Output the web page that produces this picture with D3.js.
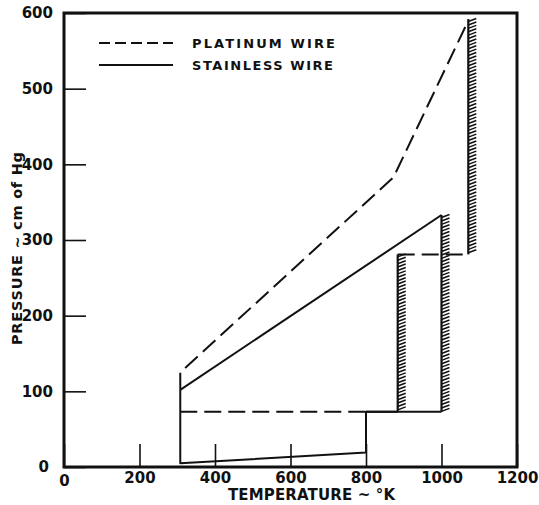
<!DOCTYPE html>
<html>
<head>
<meta charset="utf-8">
<script src="https://cdn.jsdelivr.net/npm/d3@7"></script>
<style>
  html, body { margin: 0; padding: 0; background: #fff; }
  svg { display: block; }
  text { font-family: "DejaVu Sans", sans-serif; font-weight: bold; fill: #111; }
</style>
</head>
<body>
<svg id="chart" width="539" height="505"></svg>
<script>
// ---- data ----
const xTicks = [0, 200, 400, 600, 800, 1000, 1200];
const yTicks = [0, 100, 200, 300, 400, 500, 600];
const xTitle = "TEMPERATURE ~ °K";
const yTitle = "PRESSURE ~ cm of Hg";
const legendLabels = ["PLATINUM  WIRE", "STAINLESS  WIRE"];

// platinum wire boundaries (dashed)  [temperature K, pressure cmHg]
const platinumUpper = [[308, 102], [308, 125], [873, 383], [1071, 590]];
const platinumLower = [[308, 73], [800, 73]];
const platinumStep  = [[884, 281], [1071, 281]];

// stainless wire boundaries (solid)
const stainlessUpper = [[308, 102], [1000, 333]];
const stainlessLower = [[308, 102], [308, 5], [800, 19], [800, 73], [1000, 73]];
const stainlessShelf = [[800, 73], [884, 73]];

// hatched limit lines: [temperature, pressure from, pressure to]
const hatchLimits = [[884, 73, 281], [1000, 73, 333], [1071, 281, 592]];

// ---- layout ----
const svg = d3.select("#chart");
const x = d3.scaleLinear().domain([0, 1200]).range([64, 517]);
const y = d3.scaleLinear().domain([0, 600]).range([467, 13]);
const line = d3.line().x(d => x(d[0])).y(d => y(d[1]));
const fmt = d3.format("d");

// axes
const gx = svg.append("g").attr("transform", `translate(0,${y(0)})`)
  .call(d3.axisBottom(x).tickValues(xTicks).tickFormat(fmt)
    .tickSizeInner(-23).tickSizeOuter(0).tickPadding(5));
const gy = svg.append("g").attr("transform", `translate(${x(0)},0)`)
  .call(d3.axisLeft(y).tickValues(yTicks).tickFormat(fmt)
    .tickSizeInner(-22).tickSizeOuter(0).tickPadding(11));
[gx, gy].forEach(g => {
  g.select(".domain").remove();
  g.selectAll(".tick line").attr("stroke", "#111").attr("stroke-width", 1.6);
  g.selectAll(".tick text").attr("font-size", 15).attr("font-family", "DejaVu Sans")
    .attr("font-weight", "bold").attr("fill", "#111");
});
gy.selectAll(".tick text").filter(d => d === 0).attr("dx", -4);
gx.selectAll(".tick text").filter(d => d === 0).attr("dy", "0.95em");
gx.selectAll(".tick text").filter(d => d === 1200).attr("dx", 0);

// frame
svg.append("rect")
  .attr("x", x(0)).attr("y", y(600))
  .attr("width", x(1200) - x(0)).attr("height", y(0) - y(600))
  .attr("fill", "none").attr("stroke", "#111").attr("stroke-width", 3);

// data lines
const dash = "17,7";
[platinumUpper, platinumLower, platinumStep].forEach(d => {
  svg.append("path").attr("d", line(d)).attr("fill", "none")
    .attr("stroke", "#111").attr("stroke-width", 2).attr("stroke-dasharray", dash);
});
[stainlessUpper, stainlessLower, stainlessShelf].forEach(d => {
  svg.append("path").attr("d", line(d)).attr("fill", "none")
    .attr("stroke", "#111").attr("stroke-width", 2).attr("stroke-linejoin", "round");
});

// hatched limit lines
hatchLimits.forEach(([t, p0, p1]) => {
  const px = x(t), ya = y(p1), yb = y(p0);
  svg.append("line").attr("x1", px).attr("x2", px).attr("y1", ya).attr("y2", yb)
    .attr("stroke", "#111").attr("stroke-width", 2.2);
  const marks = d3.range(ya + 1, yb - 1, 3.4);
  svg.append("g").selectAll("line").data(marks).join("line")
    .attr("x1", px).attr("y1", d => d + 1.5)
    .attr("x2", px + 8).attr("y2", d => d - 1.5)
    .attr("stroke", "#111").attr("stroke-width", 1.5);
});

// legend
const lg = svg.append("g");
legendLabels.forEach((lab, i) => {
  const ly = 43 + i * 22;
  lg.append("line").attr("x1", 99).attr("x2", 173).attr("y1", ly).attr("y2", ly)
    .attr("stroke", "#111").attr("stroke-width", 1.8)
    .attr("stroke-dasharray", i === 0 ? "11,5" : null);
  lg.append("text").attr("x", 192).attr("y", ly + 5).attr("font-size", 13)
    .attr("textLength", i === 0 ? 143 : 141).attr("lengthAdjust", "spacing")
    .text(lab);
});

// axis titles
svg.append("text").attr("x", 228).attr("y", 500).attr("font-size", 15)
  .attr("textLength", 167).attr("lengthAdjust", "spacing").text(xTitle);
svg.append("text").attr("transform", "translate(22,345) rotate(-90)")
  .attr("x", 0).attr("y", 0).attr("font-size", 14.5)
  .attr("textLength", 193).attr("lengthAdjust", "spacing").text(yTitle);
</script>
</body>
</html>
